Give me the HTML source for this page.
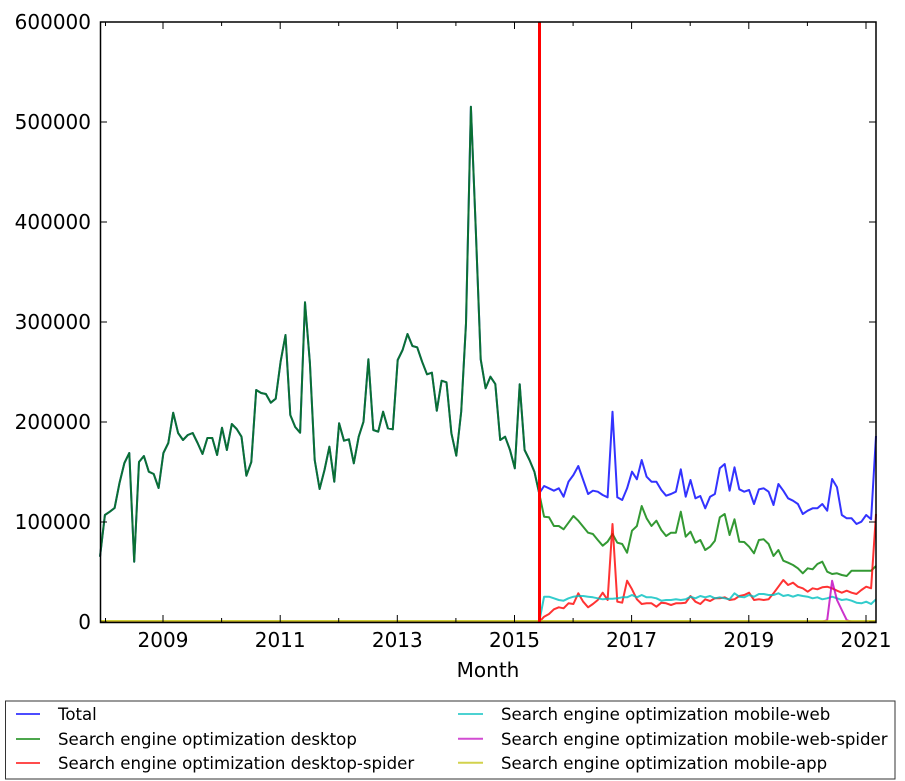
<!DOCTYPE html>
<html><head><meta charset="utf-8"><style>
html,body{margin:0;padding:0;background:#fff;}
svg{display:block;}
text{font-family:"DejaVu Sans","Liberation Sans",sans-serif;fill:#000;}
</style></head><body>
<svg width="905" height="781" viewBox="0 0 905 781" xmlns="http://www.w3.org/2000/svg">
<rect x="0" y="0" width="905" height="781" fill="#fff"/>
<g fill="none" stroke-width="2" stroke-linejoin="round" stroke-opacity="0.8">
<!-- Total -->
<polyline stroke="#0000ff" points="100,556.7 104.9,515 109.8,511.7 114.6,508 119.5,483 124.4,463 129.3,453 134.2,561.7 139,462 143.9,456 148.8,471.7 153.7,474 158.6,488 163.4,453 168.3,443 173.2,412.7 178.1,433 183,440 187.8,435 192.7,433 197.6,443 202.5,454 207.4,438 212.3,438 217.1,455 222,427.7 226.9,450 231.8,424 236.7,429 241.5,436.7 246.4,475.7 251.3,462 256.2,390 261.1,393 265.9,394 270.8,402.7 275.7,398.7 280.6,361.7 285.5,335 290.3,415 295.2,427 300.1,432.7 305,302.3 309.9,363 314.7,460 319.6,489 324.5,470 329.4,446.7 334.3,481.7 339.1,423.3 344,440.7 348.9,439.3 353.8,463.3 358.7,436.7 363.5,421.7 368.4,359.3 373.3,430 378.2,431.7 383.1,411.7 387.9,428.3 392.8,429.3 397.7,360 402.6,350 407.5,334 412.4,346 417.2,347.3 422.1,361.7 427,374.3 431.9,372.7 436.8,410.7 441.6,380.7 446.5,382.3 451.4,433.3 456.3,455.7 461.2,411.7 466,323.3 470.9,106.7 475.8,230 480.7,359.3 485.6,388.3 490.4,376.7 495.3,384 500.2,440 505.1,436.7 510,450 514.8,468.3 519.7,384.3 524.6,450 529.5,460 534.4,471.7 539.2,493.3 544.1,486 549,488.3 553.9,490.7 558.8,488.3 563.6,496.7 568.5,481.7 573.4,475 578.3,466 583.2,480 588.1,494 592.9,490.7 597.8,491.7 602.7,495 607.6,497.3 612.5,411.7 617.3,497.3 622.2,500 627.1,488.3 632,471.7 636.9,479.3 641.7,460 646.6,476.7 651.5,481.7 656.4,481.7 661.3,490 666.1,495.7 671,494 675.9,491.7 680.8,469.3 685.7,496.7 690.5,480 695.4,498.3 700.3,496 705.2,508.3 710.1,496.7 714.9,494 719.8,468.3 724.7,464 729.6,490.7 734.5,467.3 739.3,489.3 744.2,491.7 749.1,490 754,504 758.9,489.3 763.7,488.3 768.6,491.7 773.5,505 778.4,484 783.3,490.7 788.1,498.3 793,500.7 797.9,504 802.8,514 807.7,510.7 812.6,508.3 817.4,508.3 822.3,504 827.2,510.7 832.1,479 837,487.3 841.8,515 846.7,518.3 851.6,518.3 856.5,524 861.4,521.7 866.2,515 871.1,519.3 876,436"/>
<!-- Desktop -->
<polyline stroke="#008000" points="100,556.7 104.9,515 109.8,511.7 114.6,508 119.5,483 124.4,463 129.3,453 134.2,561.7 139,462 143.9,456 148.8,471.7 153.7,474 158.6,488 163.4,453 168.3,443 173.2,412.7 178.1,433 183,440 187.8,435 192.7,433 197.6,443 202.5,454 207.4,438 212.3,438 217.1,455 222,427.7 226.9,450 231.8,424 236.7,429 241.5,436.7 246.4,475.7 251.3,462 256.2,390 261.1,393 265.9,394 270.8,402.7 275.7,398.7 280.6,361.7 285.5,335 290.3,415 295.2,427 300.1,432.7 305,302.3 309.9,363 314.7,460 319.6,489 324.5,470 329.4,446.7 334.3,481.7 339.1,423.3 344,440.7 348.9,439.3 353.8,463.3 358.7,436.7 363.5,421.7 368.4,359.3 373.3,430 378.2,431.7 383.1,411.7 387.9,428.3 392.8,429.3 397.7,360 402.6,350 407.5,334 412.4,346 417.2,347.3 422.1,361.7 427,374.3 431.9,372.7 436.8,410.7 441.6,380.7 446.5,382.3 451.4,433.3 456.3,455.7 461.2,411.7 466,323.3 470.9,106.7 475.8,230 480.7,359.3 485.6,388.3 490.4,376.7 495.3,384 500.2,440 505.1,436.7 510,450 514.8,468.3 519.7,384.3 524.6,450 529.5,460 534.4,471.7 539.2,493.3 544.1,516.7 549,517.3 553.9,526 558.8,526 563.6,529.3 568.5,522.7 573.4,516 578.3,520.7 583.2,526.7 588.1,532.7 592.9,534 597.8,540 602.7,545.7 607.6,541.7 612.5,534 617.3,542.7 622.2,544 627.1,552.7 632,530.7 636.9,526 641.7,506 646.6,518.3 651.5,526 656.4,520.7 661.3,530 666.1,536 671,532.7 675.9,532.7 680.8,511.7 685.7,536.7 690.5,531.7 695.4,542.7 700.3,540 705.2,550 710.1,546.7 714.9,540.7 719.8,517.3 724.7,514 729.6,535 734.5,519.3 739.3,541.7 744.2,542 749.1,546.7 754,553.3 758.9,540 763.7,539.3 768.6,544 773.5,556 778.4,550 783.3,560.7 788.1,562.7 793,565 797.9,568.3 802.8,573.3 807.7,568.3 812.6,569.3 817.4,564 822.3,561.7 827.2,571.7 832.1,574 837,573.3 841.8,575 846.7,576 851.6,570.7 856.5,570.7 861.4,570.7 866.2,570.7 871.1,570.7 876,566"/>
<!-- Desktop-spider -->
<polyline stroke="#ff0000" points="100,622 539.2,622 544.1,616.7 549,614 553.9,609.3 558.8,607.3 563.6,608.3 568.5,603.3 573.4,604 578.3,593.3 583.2,601.7 588.1,607.3 592.9,604 597.8,600 602.7,592.7 607.6,600 612.5,524 617.3,601.7 622.2,602.7 627.1,580.7 632,589.3 636.9,599.3 641.7,604 646.6,603.3 651.5,603.3 656.4,606.7 661.3,602.7 666.1,603.3 671,605 675.9,603.3 680.8,603.3 685.7,602.7 690.5,596 695.4,601.7 700.3,604 705.2,599.3 710.1,601 714.9,598.3 719.8,598.3 724.7,597.3 729.6,600 734.5,599.3 739.3,596 744.2,595 749.1,592.7 754,600 758.9,599.3 763.7,600 768.6,599.3 773.5,593.3 778.4,586.7 783.3,580 788.1,585 793,582.7 797.9,586.7 802.8,588.3 807.7,591.7 812.6,588.3 817.4,589.3 822.3,587.3 827.2,586.7 832.1,588.3 837,590.7 841.8,592.7 846.7,590.7 851.6,592.7 856.5,594 861.4,590 866.2,586.7 871.1,588.3 876,514"/>
<!-- Mobile-web -->
<polyline stroke="#00bfbf" points="100,622 539.2,622 544.1,596.7 549,596.7 553.9,598.3 558.8,600 563.6,600.7 568.5,598.3 573.4,596.7 578.3,596 583.2,596 588.1,596.7 592.9,597.3 597.8,598.3 602.7,599.3 607.6,598.7 612.5,598.7 617.3,598.3 622.2,597.3 627.1,597.3 632,595 636.9,597.3 641.7,595 646.6,597.3 651.5,597.3 656.4,598.3 661.3,600.7 666.1,600 671,600 675.9,599.3 680.8,600 685.7,599.3 690.5,596.7 695.4,598.3 700.3,596 705.2,597.3 710.1,596 714.9,598.3 719.8,597.3 724.7,598.3 729.6,599.3 734.5,593.3 739.3,596.7 744.2,597.3 749.1,595 754,596.7 758.9,594 763.7,594 768.6,595 773.5,595 778.4,593.3 783.3,596 788.1,595 793,596.7 797.9,595 802.8,596 807.7,596.7 812.6,598.3 817.4,597.3 822.3,599.3 827.2,598.3 832.1,596.7 837,598.3 841.8,600 846.7,599.3 851.6,600.7 856.5,602.7 861.4,603.3 866.2,601.7 871.1,604 876,599.3"/>
<!-- Mobile-web-spider -->
<polyline stroke="#bf00bf" points="100,622 822.3,622 827.2,620 832.1,580.7 837,600 841.8,610 846.7,620 851.6,622 876,622"/>
<!-- Mobile-app -->
<polyline stroke="#bfbf00" points="100,621 876,621"/>
</g>
<!-- vertical red line -->
<line x1="539.5" y1="22" x2="539.5" y2="622" stroke="#ff0000" stroke-width="3"/>
<!-- frame -->
<rect x="100.5" y="22" width="775.5" height="600.5" fill="none" stroke="#000" stroke-width="1.5"/>
<!-- y ticks -->
<g stroke="#000" stroke-width="1">
<line x1="100" y1="22" x2="107" y2="22"/><line x1="876" y1="22" x2="869" y2="22"/>
<line x1="100" y1="122" x2="107" y2="122"/><line x1="876" y1="122" x2="869" y2="122"/>
<line x1="100" y1="222" x2="107" y2="222"/><line x1="876" y1="222" x2="869" y2="222"/>
<line x1="100" y1="322" x2="107" y2="322"/><line x1="876" y1="322" x2="869" y2="322"/>
<line x1="100" y1="422" x2="107" y2="422"/><line x1="876" y1="422" x2="869" y2="422"/>
<line x1="100" y1="522" x2="107" y2="522"/><line x1="876" y1="522" x2="869" y2="522"/>
<line x1="100" y1="622" x2="107" y2="622"/><line x1="876" y1="622" x2="869" y2="622"/>
<!-- x ticks major (odd years) -->
<line x1="163" y1="622" x2="163" y2="615"/><line x1="163" y1="22" x2="163" y2="29"/>
<line x1="280.2" y1="622" x2="280.2" y2="615"/><line x1="280.2" y1="22" x2="280.2" y2="29"/>
<line x1="397.3" y1="622" x2="397.3" y2="615"/><line x1="397.3" y1="22" x2="397.3" y2="29"/>
<line x1="514.5" y1="622" x2="514.5" y2="615"/><line x1="514.5" y1="22" x2="514.5" y2="29"/>
<line x1="631.6" y1="622" x2="631.6" y2="615"/><line x1="631.6" y1="22" x2="631.6" y2="29"/>
<line x1="748.8" y1="622" x2="748.8" y2="615"/><line x1="748.8" y1="22" x2="748.8" y2="29"/>
<line x1="866" y1="622" x2="866" y2="615"/><line x1="866" y1="22" x2="866" y2="29"/>
<!-- minor (even years) -->
<line x1="105.5" y1="622" x2="105.5" y2="618"/><line x1="105.5" y1="22" x2="105.5" y2="26"/>
<line x1="221.6" y1="622" x2="221.6" y2="618"/><line x1="221.6" y1="22" x2="221.6" y2="26"/>
<line x1="338.7" y1="622" x2="338.7" y2="618"/><line x1="338.7" y1="22" x2="338.7" y2="26"/>
<line x1="455.9" y1="622" x2="455.9" y2="618"/><line x1="455.9" y1="22" x2="455.9" y2="26"/>
<line x1="573.1" y1="622" x2="573.1" y2="618"/><line x1="573.1" y1="22" x2="573.1" y2="26"/>
<line x1="690.2" y1="622" x2="690.2" y2="618"/><line x1="690.2" y1="22" x2="690.2" y2="26"/>
<line x1="807.4" y1="622" x2="807.4" y2="618"/><line x1="807.4" y1="22" x2="807.4" y2="26"/>
</g>
<!-- y labels -->
<g font-size="20" text-anchor="end">
<text x="91" y="29">600000</text>
<text x="91" y="129">500000</text>
<text x="91" y="229">400000</text>
<text x="91" y="329">300000</text>
<text x="91" y="429">200000</text>
<text x="91" y="529">100000</text>
<text x="91" y="629">0</text>
</g>
<!-- x labels -->
<g font-size="20" text-anchor="middle">
<text x="163" y="647">2009</text>
<text x="280.2" y="647">2011</text>
<text x="397.3" y="647">2013</text>
<text x="514.5" y="647">2015</text>
<text x="631.6" y="647">2017</text>
<text x="748.8" y="647">2019</text>
<text x="866" y="647">2021</text>
<text x="488" y="677">Month</text>
</g>
<!-- legend -->
<rect x="5.5" y="701" width="889.5" height="78" fill="#fff" stroke="#333" stroke-width="1"/>
<g stroke-width="2" stroke-opacity="0.7">
<line x1="16" y1="714" x2="40" y2="714" stroke="#0000ff"/>
<line x1="16" y1="739" x2="40" y2="739" stroke="#008000"/>
<line x1="16" y1="763" x2="40" y2="763" stroke="#ff0000"/>
<line x1="458" y1="714" x2="483" y2="714" stroke="#00bfbf"/>
<line x1="458" y1="738.7" x2="483" y2="738.7" stroke="#bf00bf"/>
<line x1="458" y1="762.7" x2="483" y2="762.7" stroke="#bfbf00"/>
</g>
<g font-size="16.6">
<text x="58" y="720">Total</text>
<text x="58" y="745">Search engine optimization desktop</text>
<text x="58" y="769">Search engine optimization desktop-spider</text>
<text x="501" y="720">Search engine optimization mobile-web</text>
<text x="501" y="745">Search engine optimization mobile-web-spider</text>
<text x="501" y="769">Search engine optimization mobile-app</text>
</g>
</svg>
</body></html>
